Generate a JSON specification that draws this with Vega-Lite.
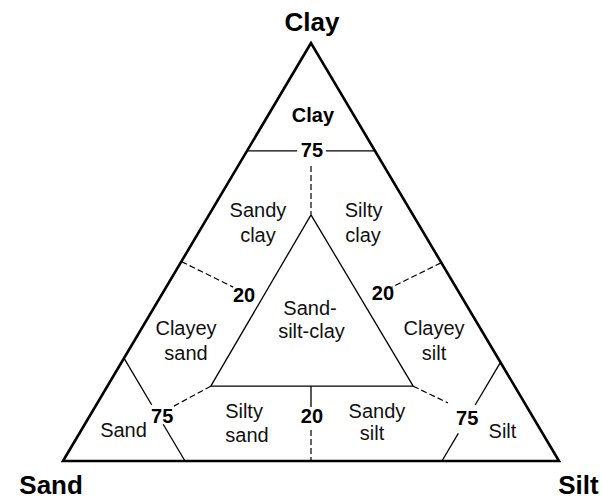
{
  "$schema": "https://vega.github.io/schema/vega-lite/v6.json",
  "width": 603,
  "height": 499,
  "autosize": "none",
  "padding": 0,
  "background": "white",
  "config": {"view": {"stroke": null}},
  "datasets": {
    "outer": [
      {"x": 0, "y": 0, "o": 1},
      {"x": 50, "y": 100, "o": 2},
      {"x": 100, "y": 0, "o": 3},
      {"x": 0, "y": 0, "o": 4},
      {"x": 50, "y": 100, "o": 5}
    ],
    "segments": [
      {"x": 37.1, "y": 74.2, "x2": 47.2, "y2": 74.2, "style": "solid"},
      {"x": 53.0, "y": 74.2, "x2": 62.9, "y2": 74.2, "style": "solid"},
      {"x": 29.8, "y": 17.9, "x2": 50, "y2": 58.9, "style": "solid"},
      {"x": 50, "y": 58.9, "x2": 70.6, "y2": 17.9, "style": "solid"},
      {"x": 29.8, "y": 17.9, "x2": 70.6, "y2": 17.9, "style": "solid"},
      {"x": 12.3, "y": 24.6, "x2": 17.9, "y2": 13.4, "style": "solid"},
      {"x": 20.2, "y": 8.8, "x2": 24.6, "y2": 0, "style": "solid"},
      {"x": 88.2, "y": 23.6, "x2": 83.1, "y2": 13.4, "style": "solid"},
      {"x": 79.7, "y": 6.6, "x2": 76.4, "y2": 0, "style": "solid"},
      {"x": 50, "y": 17.9, "x2": 50, "y2": 12.9, "style": "solid"},
      {"x": 50, "y": 70.6, "x2": 50, "y2": 58.9, "style": "dashed"},
      {"x": 23.9, "y": 47.7, "x2": 34.3, "y2": 41.6, "style": "dashed"},
      {"x": 76.2, "y": 47.4, "x2": 66.3, "y2": 41.6, "style": "dashed"},
      {"x": 29.8, "y": 17.9, "x2": 22.0, "y2": 12.9, "style": "dashed"},
      {"x": 70.6, "y": 17.9, "x2": 77.6, "y2": 13.9, "style": "dashed"},
      {"x": 50, "y": 7.4, "x2": 50, "y2": 0, "style": "dashed"}
    ],
    "labels": [
      {"x": 50.2, "y": 102.9, "label": "Clay", "kind": "title"},
      {"x": -2.4, "y": -7.9, "label": "Sand", "kind": "title"},
      {"x": 103.9, "y": -7.9, "label": "Silt", "kind": "title"},
      {"x": 50.4, "y": 81.1, "label": "Clay", "kind": "bold"},
      {"x": 39.3, "y": 58.4, "label": "Sandy", "kind": "region"},
      {"x": 39.3, "y": 52.4, "label": "clay", "kind": "region"},
      {"x": 60.6, "y": 58.4, "label": "Silty", "kind": "region"},
      {"x": 60.5, "y": 52.4, "label": "clay", "kind": "region"},
      {"x": 24.8, "y": 30.1, "label": "Clayey", "kind": "region"},
      {"x": 24.8, "y": 24.2, "label": "sand", "kind": "region"},
      {"x": 49.8, "y": 34.9, "label": "Sand-", "kind": "region"},
      {"x": 50.1, "y": 29.4, "label": "silt-clay", "kind": "region"},
      {"x": 74.8, "y": 30.1, "label": "Clayey", "kind": "region"},
      {"x": 74.8, "y": 24.2, "label": "silt", "kind": "region"},
      {"x": 12.2, "y": 5.7, "label": "Sand", "kind": "region"},
      {"x": 36.5, "y": 10.3, "label": "Silty", "kind": "region"},
      {"x": 37.1, "y": 4.5, "label": "sand", "kind": "region"},
      {"x": 63.3, "y": 10.3, "label": "Sandy", "kind": "region"},
      {"x": 62.3, "y": 5.0, "label": "silt", "kind": "region"},
      {"x": 88.6, "y": 5.5, "label": "Silt", "kind": "region"},
      {"x": 50.2, "y": 72.7, "label": "75", "kind": "bold"},
      {"x": 36.5, "y": 38.0, "label": "20", "kind": "bold"},
      {"x": 64.5, "y": 38.5, "label": "20", "kind": "bold"},
      {"x": 20.0, "y": 9.1, "label": "75", "kind": "bold"},
      {"x": 50.2, "y": 9.1, "label": "20", "kind": "bold"},
      {"x": 81.5, "y": 8.6, "label": "75", "kind": "bold"}
    ]
  },
  "encoding": {
    "x": {"field": "x", "type": "quantitative", "axis": null, "scale": {"domain": [-12.70, 108.87], "nice": false, "zero": false}},
    "y": {"field": "y", "type": "quantitative", "axis": null, "scale": {"domain": [-9.09, 110.29], "nice": false, "zero": false}}
  },
  "layer": [
    {
      "data": {"name": "outer"},
      "mark": {"type": "line", "color": "black", "strokeWidth": 2.6, "strokeJoin": "miter", "strokeCap": "butt"},
      "encoding": {"order": {"field": "o", "type": "quantitative"}}
    },
    {
      "data": {"name": "segments"},
      "transform": [{"filter": "datum.style === 'solid'"}],
      "mark": {"type": "rule", "color": "black", "strokeWidth": 1.3},
      "encoding": {"x2": {"field": "x2"}, "y2": {"field": "y2"}}
    },
    {
      "data": {"name": "segments"},
      "transform": [{"filter": "datum.style === 'dashed'"}],
      "mark": {"type": "rule", "color": "black", "strokeWidth": 1.2, "strokeDash": [6, 3]},
      "encoding": {"x2": {"field": "x2"}, "y2": {"field": "y2"}}
    },
    {
      "data": {"name": "labels"},
      "transform": [{"filter": "datum.kind === 'title'"}],
      "mark": {"type": "text", "font": "Liberation Sans", "fontSize": 26, "fontWeight": "bold", "align": "center", "baseline": "alphabetic", "color": "black"},
      "encoding": {"text": {"field": "label"}}
    },
    {
      "data": {"name": "labels"},
      "transform": [{"filter": "datum.kind === 'bold'"}],
      "mark": {"type": "text", "font": "Liberation Sans", "fontSize": 20, "fontWeight": "bold", "align": "center", "baseline": "alphabetic", "color": "black"},
      "encoding": {"text": {"field": "label"}}
    },
    {
      "data": {"name": "labels"},
      "transform": [{"filter": "datum.kind === 'region'"}],
      "mark": {"type": "text", "font": "Liberation Sans", "fontSize": 20, "align": "center", "baseline": "alphabetic", "color": "#111111"},
      "encoding": {"text": {"field": "label"}}
    }
  ]
}
